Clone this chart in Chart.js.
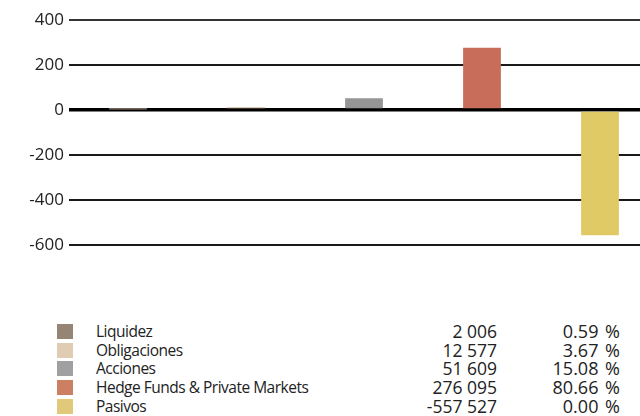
<!DOCTYPE html>
<html>
<head>
<meta charset="utf-8">
<script src="https://cdn.jsdelivr.net/npm/chart.js@4"></script>
<style>
  html, body { margin: 0; padding: 0; background: #fff; overflow: hidden; }
  body { width: 640px; height: 416px; position: relative; font-family: "Open Sans", sans-serif; color: #222; }
  #wrap { position: absolute; left: 0; top: 0; width: 659px; height: 260px; }
  #legend { position: absolute; left: 57px; top: 322px; border-collapse: collapse; font-size: 17.5px; }
  #legend td { padding: 0; height: 18.75px; line-height: 15px; vertical-align: middle; }
  #legend .sw span { display: block; width: 16px; height: 15px; }
  #legend .name { padding-left: 23px; width: 311px; font-size: 15.5px; letter-spacing: -0.5px; }
  #legend .val { text-align: right; width: 90px; }
  #legend .pct { text-align: right; width: 123px; font-size: 18px; word-spacing: 2px; }
</style>
</head>
<body>
<div id="wrap"><canvas id="allocChart"></canvas></div>
<table id="legend"></table>
<script>
const categories = ['Liquidez', 'Obligaciones', 'Acciones', 'Hedge Funds & Private Markets', 'Pasivos'];
const amounts = [2006, 12577, 51609, 276095, -557527];
const shares = ['0.59', '3.67', '15.08', '80.66', '0.00'];
const barColors = ['#968474', '#dccab2', '#959595', '#c96d5b', '#e0ca66'];
const swatchColors = ['#968474', '#dfccb3', '#a0a0a3', '#cd7f63', '#e2c97a'];
const yTicks = [400, 200, 0, -200, -400, -600];

// bars are plotted in thousands
const barValues = amounts.map(v => v / 1000);

function fmt(n) {
    const s = Math.abs(n).toString().replace(/\B(?=(\d{3})+(?!\d))/g, ' ');
    return (n < 0 ? '-' : '') + s;
}

const legend = document.getElementById('legend');
categories.forEach((c, i) => {
    const tr = document.createElement('tr');
    tr.innerHTML = '<td class="sw"><span style="background:' + swatchColors[i] + '"></span></td>' +
        '<td class="name">' + c.replace('&', '&amp;') + '</td>' +
        '<td class="val">' + fmt(amounts[i]) + '</td>' +
        '<td class="pct">' + shares[i] + ' %</td>';
    legend.appendChild(tr);
});

const ctx = document.getElementById('allocChart');
new Chart(ctx, {
    type: 'bar',
    data: {
        labels: categories,
        datasets: [{
            data: barValues,
            backgroundColor: barColors,
            barPercentage: 0.64,
            categoryPercentage: 0.5
        }]
    },
    options: {
        responsive: true,
        maintainAspectRatio: false,
        animation: false,
        layout: { padding: { top: 20, bottom: 6, left: 0, right: 0 } },
        plugins: { legend: { display: false }, tooltip: { enabled: false } },
        scales: {
            x: { display: false },
            y: {
                min: -600,
                max: 400,
                afterFit: s => { s.width = 69; },
                afterBuildTicks: s => { s.ticks = yTicks.map(v => ({ value: v })); },
                border: { display: false },
                grid: {
                    drawTicks: false,
                    color: c => c.tick.value === 0 ? '#000' : (c.tick.value === 400 ? '#333' : '#1a1a1a'),
                    lineWidth: c => c.tick.value === 0 ? 3.5 : 2
                },
                ticks: {
                    padding: 5,
                    color: '#222',
                    font: { family: 'Open Sans', size: 17 }
                }
            }
        }
    }
});
</script>
</body>
</html>
